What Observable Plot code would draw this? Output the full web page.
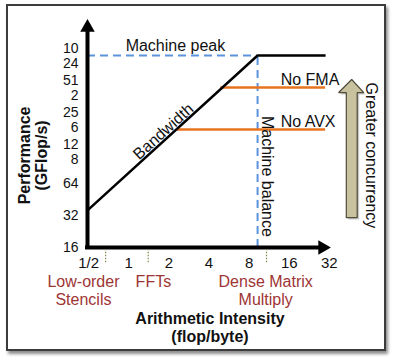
<!DOCTYPE html>
<html>
<head>
<meta charset="utf-8">
<script src="https://cdn.jsdelivr.net/npm/d3@7"></script>
<script src="https://cdn.jsdelivr.net/npm/@observablehq/plot@0.6"></script>
<style>
  body { margin: 0; background: #fff; }
  #wrap { position: relative; width: 394px; height: 362px; overflow: hidden; }
  #frame { position: absolute; left: 6px; top: 4px; width: 376px; height: 343px;
           border: 2px solid #3c3c3c; box-shadow: 2px 3px 3px rgba(0,0,0,0.45); background: #fff; }
  #wrap svg { position: absolute; left: 0; top: 0; }
</style>
</head>
<body>
<div id="wrap"><div id="frame"></div></div>
<script>
// ---- data ----
const xTicks = [0.5, 1, 2, 4, 8, 16, 32];
const xTickLabels = ["1/2", "1", "2", "4", "8", "16", "32"];
const yTicks = [16, 32, 64, 128, 256, 512, 1024];
const yTickLabels = ["16", "32", "64", "12\n8", "25\n6", "51\n2", "10\n24"];

const rooflineX = [0.49, 9.26, 30];
const rooflineY = [35.7, 1024, 1024];
const peak = 1024;
const balance = 9.26;

const ceilingNames = ["No FMA", "No AVX"];
const ceilingY = [512, 206];
const ceilingStartX = [4.9, 2.3];
const ceilingEndX = [30, 30];

const kernelNames = ["Low-order\nStencils", "FFTs", "Dense Matrix\nMultiply"];
const kernelX = [0.67, 1.40, 10.8];
const kernelLabelX = [0.457, 1.53, 10.65];

// concurrency arrow outline (data units)
const arrowX = [42.9, 42.9, 37.6, 47.1, 58.0, 51.8, 51.8, 42.9];
const arrowY = [30.6, 459, 459, 609, 459, 459, 30.6, 30.6];

// ---- chart ----
const font = "'Liberation Sans', Arial, Helvetica, sans-serif";
const blue = "#5b93dc";
const orange = "#e8731e";
const darkRed = "#9e3535";
const khaki = "#c8c29f";

const roofline = rooflineX.map((x, i) => ({x, y: rooflineY[i]}));
const ceilings = ceilingNames.map((name, i) => ({name, y: ceilingY[i], x1: ceilingStartX[i], x2: ceilingEndX[i]}));
const kernels = kernelNames.map((name, i) => ({name, x: kernelX[i], lx: kernelLabelX[i]}));
const arrow = arrowX.map((x, i) => ({x, y: arrowY[i]}));

const chart = Plot.plot({
  width: 394, height: 362,
  marginLeft: 87, marginRight: 62, marginTop: 19, marginBottom: 115,
  style: {fontFamily: font, fontSize: "15px", background: "transparent", overflow: "visible", color: "#111"},
  x: {type: "log", base: 2, domain: [0.49, 33.8]},
  y: {type: "log", base: 2, domain: [16, 2233]},
  marks: [
    Plot.axisX({ticks: xTicks, tickFormat: d => xTickLabels[xTicks.indexOf(d)], tickSize: 0, tickPadding: 10, label: null, fontSize: 15}),
    Plot.axisY({ticks: yTicks, tickFormat: d => yTickLabels[yTicks.indexOf(d)], tickSize: 0, tickPadding: 9, label: null, fontSize: 14, lineHeight: 1.1}),

    // dashed machine peak and machine balance
    Plot.ruleY([peak], {x1: 0.49, x2: balance, stroke: blue, strokeWidth: 2, strokeDasharray: "8,5"}),
    Plot.ruleX([balance], {y1: 16, y2: peak, stroke: blue, strokeWidth: 2, strokeDasharray: "8,5"}),

    // ceilings
    Plot.ruleY(ceilings, {y: "y", x1: "x1", x2: "x2", stroke: orange, strokeWidth: 2.5}),

    // roofline
    Plot.line(roofline, {x: "x", y: "y", stroke: "black", strokeWidth: 2.5, strokeLinejoin: "miter", strokeLinecap: "butt"}),

    // axes lines with arrowheads
    Plot.ruleX([0.49], {y1: 16, y2: 1760, stroke: "black", strokeWidth: 4, strokeLinecap: "square"}),
    Plot.ruleY([16], {x1: 0.49, x2: 27.6, stroke: "black", strokeWidth: 4, strokeLinecap: "square"}),
    Plot.dot([0], {x: 0.49, y: 2233, dy: 8, symbol: "triangle", r: 5.4, fill: "black", stroke: null}),
    Plot.dot([0], {x: 33.8, y: 16, dx: -10, symbol: "triangle", r: 5.4, rotate: 90, fill: "black", stroke: null}),

    // kernel ticks & labels
    Plot.ruleX(kernels, {x: "x", y1: 11.5, y2: 15.2, stroke: "#7d8c4a", strokeWidth: 1.2, strokeDasharray: "1.5,1.5"}),
    Plot.text(kernels, {x: "lx", y: 16, text: "name", dy: 27, lineAnchor: "top", lineHeight: 1.125, fill: darkRed, fontSize: 16}),

    // annotations
    Plot.text(["Machine peak"], {x: 2.24, y: peak, dy: -10, fontSize: 16}),
    Plot.text(ceilings, {x: 13.8, y: "y", text: "name", dy: -8, textAnchor: "start", fontSize: 16}),
    Plot.text(["Machine balance"], {x: 11.0, y: 74.6, rotate: 90, fontSize: 16}),
    Plot.text(["Bandwidth"], {x: 1.82, y: 197, rotate: -42, fontSize: 16}),

    // concurrency arrow
    Plot.line(arrow, {x: "x", y: "y", dx: 2, dy: 2, fill: "#888", fillOpacity: 0.45, stroke: null}),
    Plot.line(arrow, {x: "x", y: "y", fill: khaki, stroke: "#4f4b3a", strokeWidth: 1.2, strokeLinejoin: "miter"}),
    Plot.text(["Greater concurrency"], {x: 65.5, y: 117.5, rotate: 90, fontSize: 16}),

    // axis titles
    Plot.text(["Performance\n(GFlop/s)"], {x: 0.192, y: 117.5, rotate: -90, fontWeight: "bold", fontSize: 16, lineHeight: 1.06}),
    Plot.text(["Arithmetic Intensity\n(flop/byte)"], {frameAnchor: "bottom", dy: 64, lineAnchor: "top", lineHeight: 1.125, fontWeight: "bold", fontSize: 16})
  ]
});
document.getElementById("wrap").appendChild(chart);
</script>
</body>
</html>
